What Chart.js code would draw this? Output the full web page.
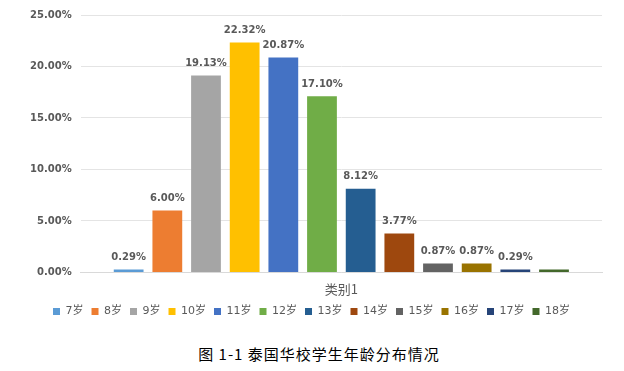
<!DOCTYPE html>
<html>
<head>
<meta charset="utf-8">
<script src="https://cdn.jsdelivr.net/npm/chart.js@4/dist/chart.umd.min.js"></script>
<style>
  html, body { margin: 0; padding: 0; background: #fff; }
  #wrap { position: relative; width: 624px; height: 333px; }
  #caption { width: 610px; padding-left: 14px; text-align: center; font-family: "Noto Sans CJK SC", sans-serif; font-size: 15px; letter-spacing: 1px; color: #000; margin-top: 10px; }
</style>
</head>
<body>
<div id="wrap"><canvas id="chartAge"></canvas></div>
<div id="caption">图 1-1 泰国华校学生年龄分布情况</div>
<script>
var categories = ["类别1"];
var ageNames = ["7岁", "8岁", "9岁", "10岁", "11岁", "12岁", "13岁", "14岁", "15岁", "16岁", "17岁", "18岁"];
var ageValues = [0.29, 6.00, 19.13, 22.32, 20.87, 17.10, 8.12, 3.77, 0.87, 0.87, 0.29, 0.29];
var showLabel = [true, true, true, true, true, true, true, true, true, true, true, false];
var yTicks = [0, 5, 10, 15, 20, 25];

var ageColors = ["#5B9BD5", "#ED7D31", "#A5A5A5", "#FFC000", "#4472C4", "#70AD47",
                 "#255E91", "#9E480E", "#636363", "#997300", "#264478", "#43682B"];

var textGray = "#595959";

var datasets = ageNames.map(function (name, i) {
    return {
        label: name,
        data: [ageValues[i]],
        backgroundColor: ageColors[i],
        borderWidth: 0,
        categoryPercentage: 0.89,
        barPercentage: 0.77
    };
});

// draw value labels above the bars
var valueLabels = {
    id: 'valueLabels',
    afterDatasetsDraw: function (chart) {
        var ctx = chart.ctx;
        ctx.save();
        ctx.font = "bold 10px 'DejaVu Sans', sans-serif";
        ctx.fillStyle = textGray;
        ctx.textAlign = 'center';
        ctx.textBaseline = 'bottom';
        chart.data.datasets.forEach(function (ds, i) {
            if (!showLabel[i]) return;
            var bar = chart.getDatasetMeta(i).data[0];
            ctx.fillText(ds.data[0].toFixed(2) + '%', bar.x, bar.y - 7);
        });
        ctx.restore();
    }
};

new Chart(document.getElementById('chartAge').getContext('2d'), {
    type: 'bar',
    data: { labels: categories, datasets: datasets },
    plugins: [valueLabels],
    options: {
        responsive: true,
        maintainAspectRatio: false,
        animation: false,
        layout: { padding: { left: 21, right: 22, top: 5, bottom: 6 } },
        plugins: {
            tooltip: { enabled: false },
            legend: {
                position: 'bottom',
                labels: {
                    boxWidth: 7,
                    boxHeight: 7,
                    padding: 8,
                    color: textGray,
                    font: { size: 11, family: "'DejaVu Sans', 'Noto Sans CJK SC', sans-serif" }
                }
            }
        },
        scales: {
            x: {
                grid: { display: false },
                border: { color: '#d9d9d9' },
                ticks: { padding: 1, color: textGray, font: { size: 13, family: "'Noto Sans CJK SC', sans-serif" } }
            },
            y: {
                min: 0,
                max: 25,
                afterBuildTicks: function (axis) {
                    axis.ticks = yTicks.map(function (v) { return { value: v }; });
                },
                grid: { color: '#e4e4e4', drawTicks: false },
                border: { display: false },
                ticks: {
                    padding: 9,
                    color: textGray,
                    font: { size: 10, weight: 'bold', family: "'DejaVu Sans', sans-serif" },
                    callback: function (v) { return v.toFixed(2) + '%'; }
                }
            }
        }
    }
});
</script>
</body>
</html>
